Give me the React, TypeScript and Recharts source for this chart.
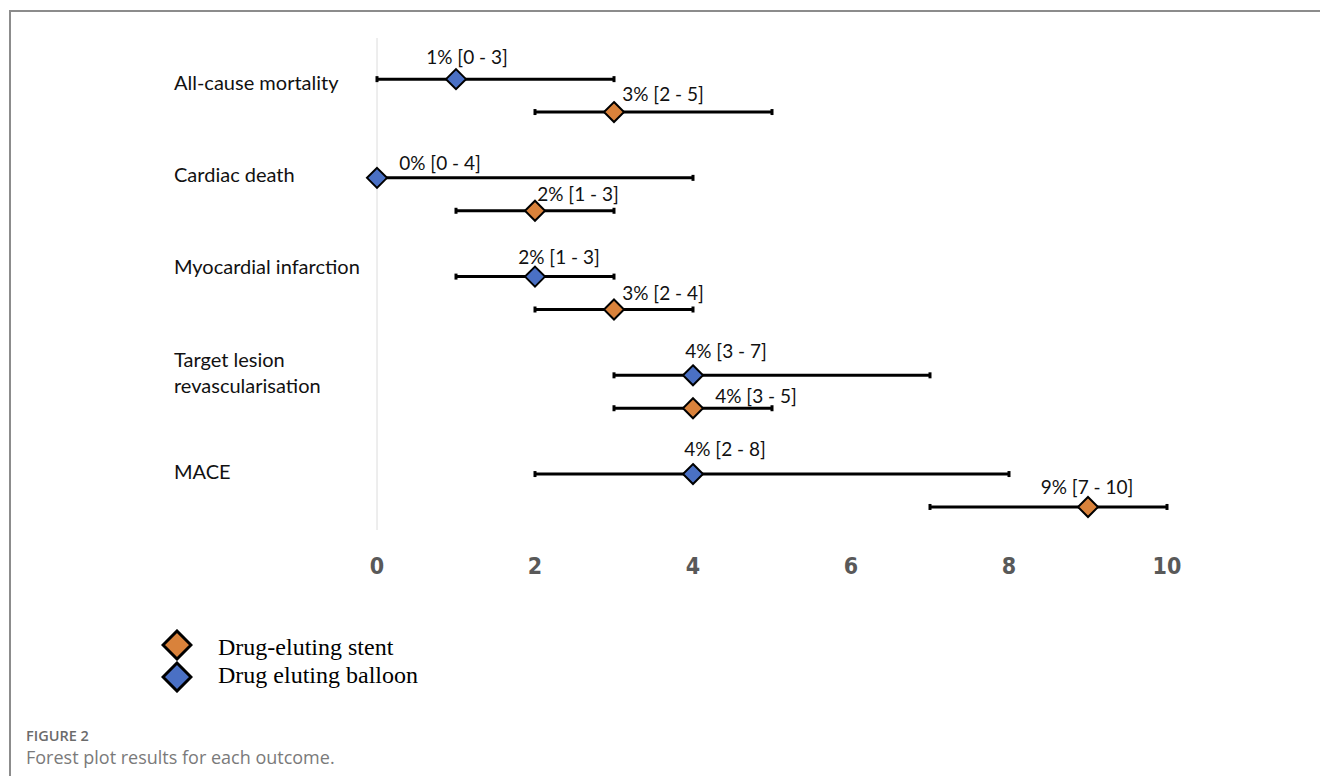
import React from "react";
import {
  ComposedChart, Scatter, ErrorBar, XAxis, YAxis, ReferenceLine,
} from "recharts";

// outcomes, top to bottom
const OUTCOMES = [
  "All-cause mortality",
  "Cardiac death",
  "Myocardial infarction",
  "Target lesion revascularisation",
  "MACE",
];

// drug eluting balloon: estimate and 95% CI (%)
const DEB_EST = [1, 0, 2, 4, 4];
const DEB_LO = [0, 0, 1, 3, 2];
const DEB_HI = [3, 4, 3, 7, 8];

// drug-eluting stent
const DES_EST = [3, 2, 3, 4, 9];
const DES_LO = [2, 1, 2, 3, 7];
const DES_HI = [5, 3, 4, 5, 10];

const X_TICKS = [0, 2, 4, 6, 8, 10];

// label nudges (px), like the hand-placed Excel data labels
const DEB_LABEL_DX = [11, 63, 24, 33, 32];
const DEB_LABEL_DY = [-15, -8, -13, -17, -18];
const DES_LABEL_DX = [49, 43, 49, 63, -1];
const DES_LABEL_DY = [-11, -10, -10, -5, -13];
const CAT_LABEL_DY = [3, -4, -11, -3, -3];

const ORANGE = "#D9823B";
const BLUE = "#4A70C4";
const LABEL_FONT = "Lato, 'Open Sans', sans-serif";

const buildRows = (est: number[], lo: number[], hi: number[], offset: number) =>
  est.map((v, i) => ({
    x: v,
    y: i * 3 + offset,
    err: [v - lo[i], hi[i] - v],
    idx: i,
    label: `${v}% [${lo[i]} - ${hi[i]}]`,
  }));

const debData = buildRows(DEB_EST, DEB_LO, DEB_HI, 0);
const desData = buildRows(DES_EST, DES_LO, DES_HI, 1);

const diamondShape = (fill: string, dxs: number[], dys: number[]) => (props: any) => {
  const { cx, cy, payload } = props;
  if (cx == null || cy == null) return <g />;
  const r = 10;
  return (
    <g>
      <path
        d={`M${cx},${cy - r} L${cx + r},${cy} L${cx},${cy + r} L${cx - r},${cy} Z`}
        fill={fill}
        stroke="#000"
        strokeWidth={2}
      />
      <text
        x={cx + dxs[payload.idx]}
        y={cy + dys[payload.idx]}
        textAnchor="middle"
        fontFamily={LABEL_FONT}
        fontSize={19}
        fill="#111"
      >
        {payload.label}
      </text>
    </g>
  );
};

const OutcomeTick = (props: any) => {
  const { y, payload } = props;
  const i = Math.round(payload.value / 3);
  const name = OUTCOMES[i] ?? "";
  const parts = name === "Target lesion revascularisation" ? ["Target lesion", "revascularisation"] : [name];
  const top = y + (CAT_LABEL_DY[i] ?? 0) - (parts.length - 1) * 13;
  return (
    <text x={174} y={top} fontFamily={LABEL_FONT} fontSize={20} fill="#111" dominantBaseline="central">
      {parts.map((p, k) => (
        <tspan key={k} x={174} dy={k === 0 ? 0 : 26}>{p}</tspan>
      ))}
    </text>
  );
};

const ValueTick = (props: any) => {
  const { x, y, payload } = props;
  return (
    <text
      x={x}
      y={y + 28}
      textAnchor="middle"
      dominantBaseline="central"
      fontFamily="'Liberation Sans Narrow', 'DejaVu Sans Condensed', sans-serif"
      fontWeight="bold"
      fontSize={23}
      fill="#595959"
    >
      {payload.value}
    </text>
  );
};

const Diamond = ({ fill }: { fill: string }) => (
  <svg width={32} height={32} style={{ display: "block" }}>
    <path d="M16,2 L30,16 L16,30 L2,16 Z" fill={fill} stroke="#000" strokeWidth={3} />
  </svg>
);

export default function App() {
  return (
    <div style={{ position: "absolute", left: 0, top: 0, width: 1320, height: 776, background: "#fff", overflow: "hidden" }}>
      {/* figure frame */}
      <div style={{ position: "absolute", left: 9, top: 10, width: 1320, height: 780, borderTop: "2px solid #8c8c8c", borderLeft: "2px solid #8c8c8c" }} />

      <div style={{ position: "absolute", left: 0, top: 0 }}>
        <ComposedChart width={1320} height={600} margin={{ top: 38, right: 153, bottom: 0, left: 0 }}>
          <XAxis
            type="number"
            dataKey="x"
            domain={[0, 10]}
            ticks={X_TICKS}
            axisLine={false}
            tickLine={false}
            height={70}
            tick={<ValueTick />}
          />
          <YAxis
            type="number"
            dataKey="y"
            domain={[-1.25, 13.7]}
            reversed
            ticks={[0, 3, 6, 9, 12]}
            interval={0}
            width={377}
            axisLine={false}
            tickLine={false}
            tick={<OutcomeTick />}
          />
          <ReferenceLine x={0} stroke="#dcdcdc" strokeWidth={1} />

          {/* confidence intervals */}
          <Scatter data={debData} shape={() => <g />} isAnimationActive={false}>
            <ErrorBar dataKey="err" direction="x" width={3} stroke="#000" strokeWidth={3} isAnimationActive={false} />
          </Scatter>
          <Scatter data={desData} shape={() => <g />} isAnimationActive={false}>
            <ErrorBar dataKey="err" direction="x" width={3} stroke="#000" strokeWidth={3} isAnimationActive={false} />
          </Scatter>

          {/* point estimates */}
          <Scatter data={debData} shape={diamondShape(BLUE, DEB_LABEL_DX, DEB_LABEL_DY)} isAnimationActive={false} />
          <Scatter data={desData} shape={diamondShape(ORANGE, DES_LABEL_DX, DES_LABEL_DY)} isAnimationActive={false} />
        </ComposedChart>
      </div>

      {/* legend */}
      <div style={{ position: "absolute", left: 161, top: 629 }}><Diamond fill={ORANGE} /></div>
      <div style={{ position: "absolute", left: 161, top: 661 }}><Diamond fill={BLUE} /></div>
      <svg width={600} height={80} style={{ position: "absolute", left: 0, top: 620 }}>
        <text x={218} y={35} fontFamily="'Liberation Serif', 'Times New Roman', serif" fontSize={24} fill="#000">Drug-eluting stent</text>
        <text x={218} y={63} fontFamily="'Liberation Serif', 'Times New Roman', serif" fontSize={24} fill="#000">Drug eluting balloon</text>
      </svg>

      {/* caption */}
      <svg width={700} height={60} style={{ position: "absolute", left: 0, top: 716 }}>
        <text x={26} y={25} fontFamily="'Open Sans', sans-serif" fontWeight={600} fontSize={14.5} fill="#6b6b6b">FIGURE 2</text>
        <text x={26} y={48} fontFamily="'Open Sans', sans-serif" fontSize={18} fill="#7a7a7a">Forest plot results for each outcome.</text>
      </svg>
    </div>
  );
}
